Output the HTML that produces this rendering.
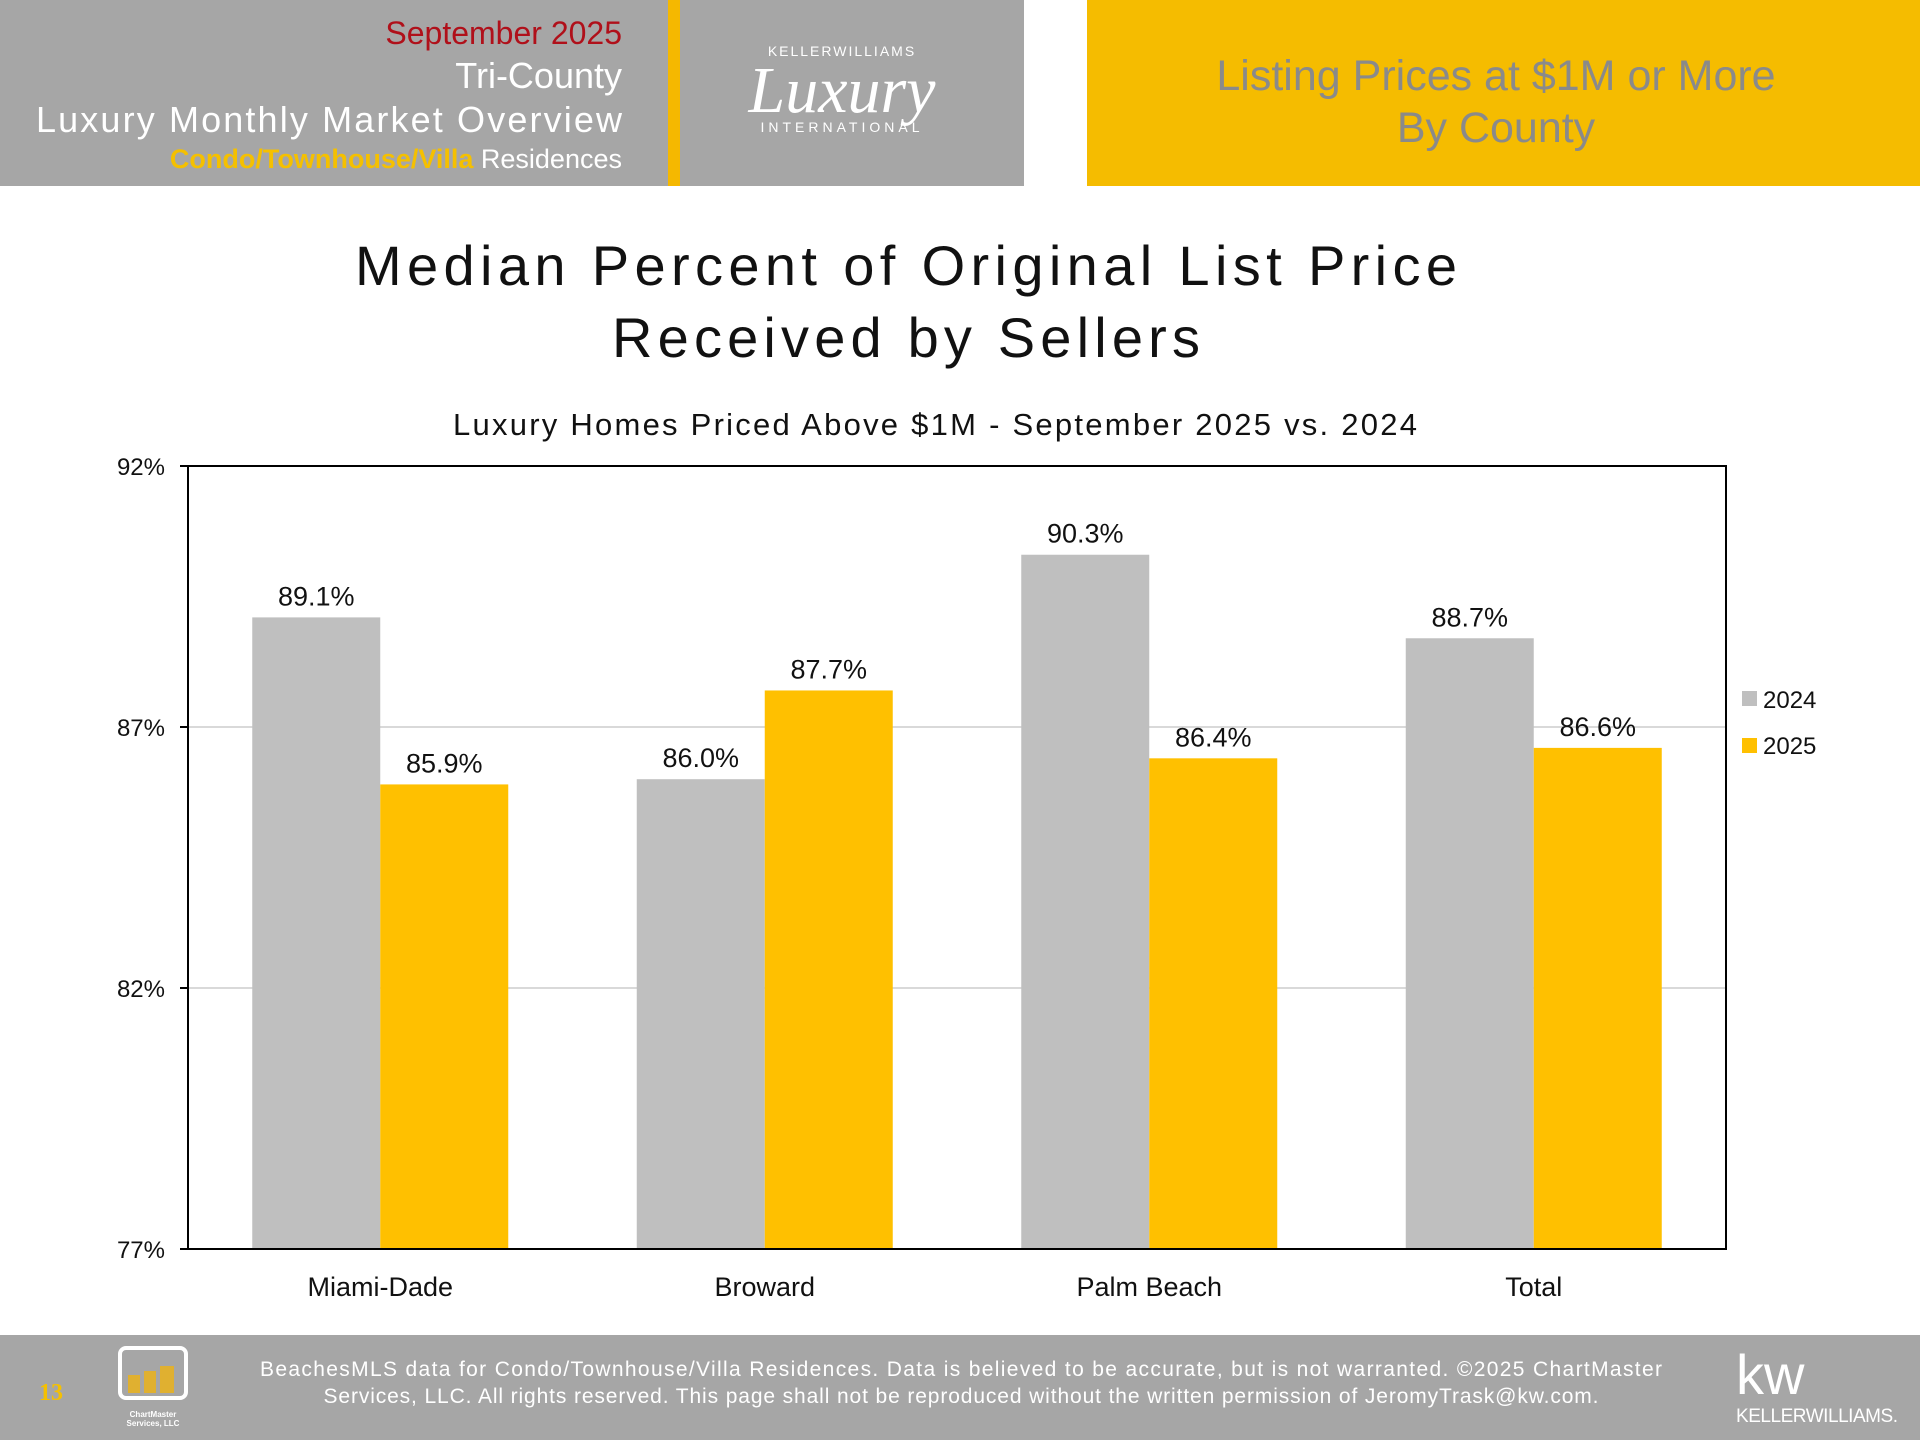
<!DOCTYPE html>
<html><head><meta charset="utf-8"><style>
html,body{margin:0;padding:0;background:#fff;}
svg{display:block;font-family:"Liberation Sans",sans-serif;}
</style></head><body>
<svg id="chart" width="1920" height="1440" viewBox="0 0 1920 1440" xmlns="http://www.w3.org/2000/svg">
<g>
<rect x="0" y="0" width="1024" height="186" fill="#a6a6a6"/>
<rect x="668" y="0" width="12" height="186" fill="#f5b800"/>
<rect x="1087" y="0" width="833" height="186" fill="#f5bc00"/>
<text x="622" y="44" text-anchor="end" font-size="32" fill="#b0101a">September 2025</text>
<text x="622" y="88" text-anchor="end" font-size="36" fill="#fff">Tri-County</text>
<text x="622" y="132" text-anchor="end" font-size="36" fill="#fff" textLength="586">Luxury Monthly Market Overview</text>
<text x="622" y="168" text-anchor="end" font-size="27" fill="#fff"><tspan fill="#f5c000" font-weight="bold">Condo/Townhouse/Villa</tspan> Residences</text>
<text x="842" y="56" text-anchor="middle" font-size="14" fill="#fff" letter-spacing="2">KELLERWILLIAMS</text>
<text x="842" y="112" text-anchor="middle" font-size="66" font-style="italic" font-family="Liberation Serif,serif" fill="#fff">Luxury</text>
<text x="842" y="132" text-anchor="middle" font-size="14" fill="#fff" letter-spacing="4">INTERNATIONAL</text>
<text x="1496" y="90" text-anchor="middle" font-size="43" fill="#8a8a8a">Listing Prices at $1M or More</text>
<text x="1496" y="142" text-anchor="middle" font-size="43" fill="#8a8a8a">By County</text>
</g>
<text x="906" y="285" text-anchor="middle" font-size="56" fill="#111" textLength="1102">Median Percent of Original List Price</text>
<text x="906" y="357" text-anchor="middle" font-size="56" fill="#111" textLength="588">Received by Sellers</text>
<text x="935" y="435" text-anchor="middle" font-size="31" fill="#111" textLength="964">Luxury Homes Priced Above $1M - September 2025 vs. 2024</text>
<g id="plot"></g>
<g>
<rect x="1742" y="691" width="15" height="15" fill="#bfbfbf"/>
<text x="1763" y="708" font-size="24" fill="#111">2024</text>
<rect x="1742" y="738" width="15" height="15" fill="#ffc000"/>
<text x="1763" y="754" font-size="24" fill="#111">2025</text>
</g>
<g>
<rect x="0" y="1335" width="1920" height="105" fill="#a6a6a6"/>
<text x="51" y="1400" text-anchor="middle" font-size="24" font-weight="bold" font-family="Liberation Serif,serif" fill="#f5c000">13</text>
<rect x="120" y="1348" width="66" height="50" rx="6" fill="none" stroke="#fff" stroke-width="4"/>
<rect x="128" y="1375" width="12" height="18" fill="#e0b030"/><rect x="144" y="1371" width="12" height="22" fill="#e0b030"/><rect x="160" y="1366" width="14" height="27" fill="#e0b030"/>
<text x="153" y="1417" text-anchor="middle" font-size="8" font-weight="bold" fill="#fff">ChartMaster</text>
<text x="153" y="1426" text-anchor="middle" font-size="8" font-weight="bold" fill="#fff">Services, LLC</text>
<text x="961" y="1376" text-anchor="middle" font-size="21" fill="#fff" textLength="1402">BeachesMLS data for Condo/Townhouse/Villa Residences.  Data is believed to be accurate, but is not warranted.   ©2025  ChartMaster</text>
<text x="961" y="1403" text-anchor="middle" font-size="21" fill="#fff" textLength="1275">Services, LLC.  All rights reserved. This page shall not be reproduced without the written permission of JeromyTrask@kw.com.</text>
<text x="1736" y="1394" font-size="56" fill="#fff">kw</text>
<text x="1736" y="1422" font-size="19" fill="#fff" textLength="162">KELLERWILLIAMS.</text>
</g>
</svg>
<script>
const categories = ["Miami-Dade","Broward","Palm Beach","Total"];
const values2024 = [89.1, 86.0, 90.3, 88.7];
const values2025 = [85.9, 87.7, 86.4, 86.6];
const yTicks = [77, 82, 87, 92];
const yTickLabels = ["77%","82%","87%","92%"];

const NS = "http://www.w3.org/2000/svg";
const plot = document.getElementById('plot');
const L = 188, R = 1726, T = 466, B = 1249, yMin = 77, yMax = 92;
const y = v => B - (v - yMin) / (yMax - yMin) * (B - T);
const catW = (R - L) / categories.length;
const xc = i => L + catW * (i + 0.5);
const barW = 128;
function mk(tag, attrs, txt) {
  const e = document.createElementNS(NS, tag);
  for (const k in attrs) e.setAttribute(k, attrs[k]);
  if (txt !== undefined) e.textContent = txt;
  plot.appendChild(e);
  return e;
}
yTicks.forEach((t, i) => {
  if (t !== yMin && t !== yMax) {
    const g = mk('line', {x1: L, x2: R, y1: y(t), y2: y(t), stroke: '#d9d9d9', 'stroke-width': 2});
    
    
  }
  const tk = mk('line', {x1: L - 8, x2: L, y1: y(t), y2: y(t), stroke: '#000', 'stroke-width': 2});
  
  
  const lb = mk('text', {x: 165, y: y(t) + 9, 'text-anchor': 'end', 'font-size': 24, fill: '#111'}, yTickLabels[i]);
  
  
});
const series = [{vals: values2024, color: '#bfbfbf', off: -1, nm: '2024'}, {vals: values2025, color: '#ffc000', off: 0, nm: '2025'}];
categories.forEach((c, i) => {
  series.forEach(s => {
    const x0 = xc(i) + s.off * barW;
    const r = mk('rect', {x: x0, y: y(s.vals[i]), width: barW, height: B - y(s.vals[i]), fill: s.color});
    
    
    const t = mk('text', {x: x0 + barW / 2, y: y(s.vals[i]) - 12, 'text-anchor': 'middle', 'font-size': 27, fill: '#111'}, s.vals[i].toFixed(1) + '%');
    
    
  });
  const xl = mk('text', {x: xc(i), y: 1296, 'text-anchor': 'middle', 'font-size': 27, fill: '#111'}, c);
  
  
});
const frame = mk('rect', {x: L, y: T, width: R - L, height: B - T, fill: 'none', stroke: '#000', 'stroke-width': 2});


</script>
</body></html>
